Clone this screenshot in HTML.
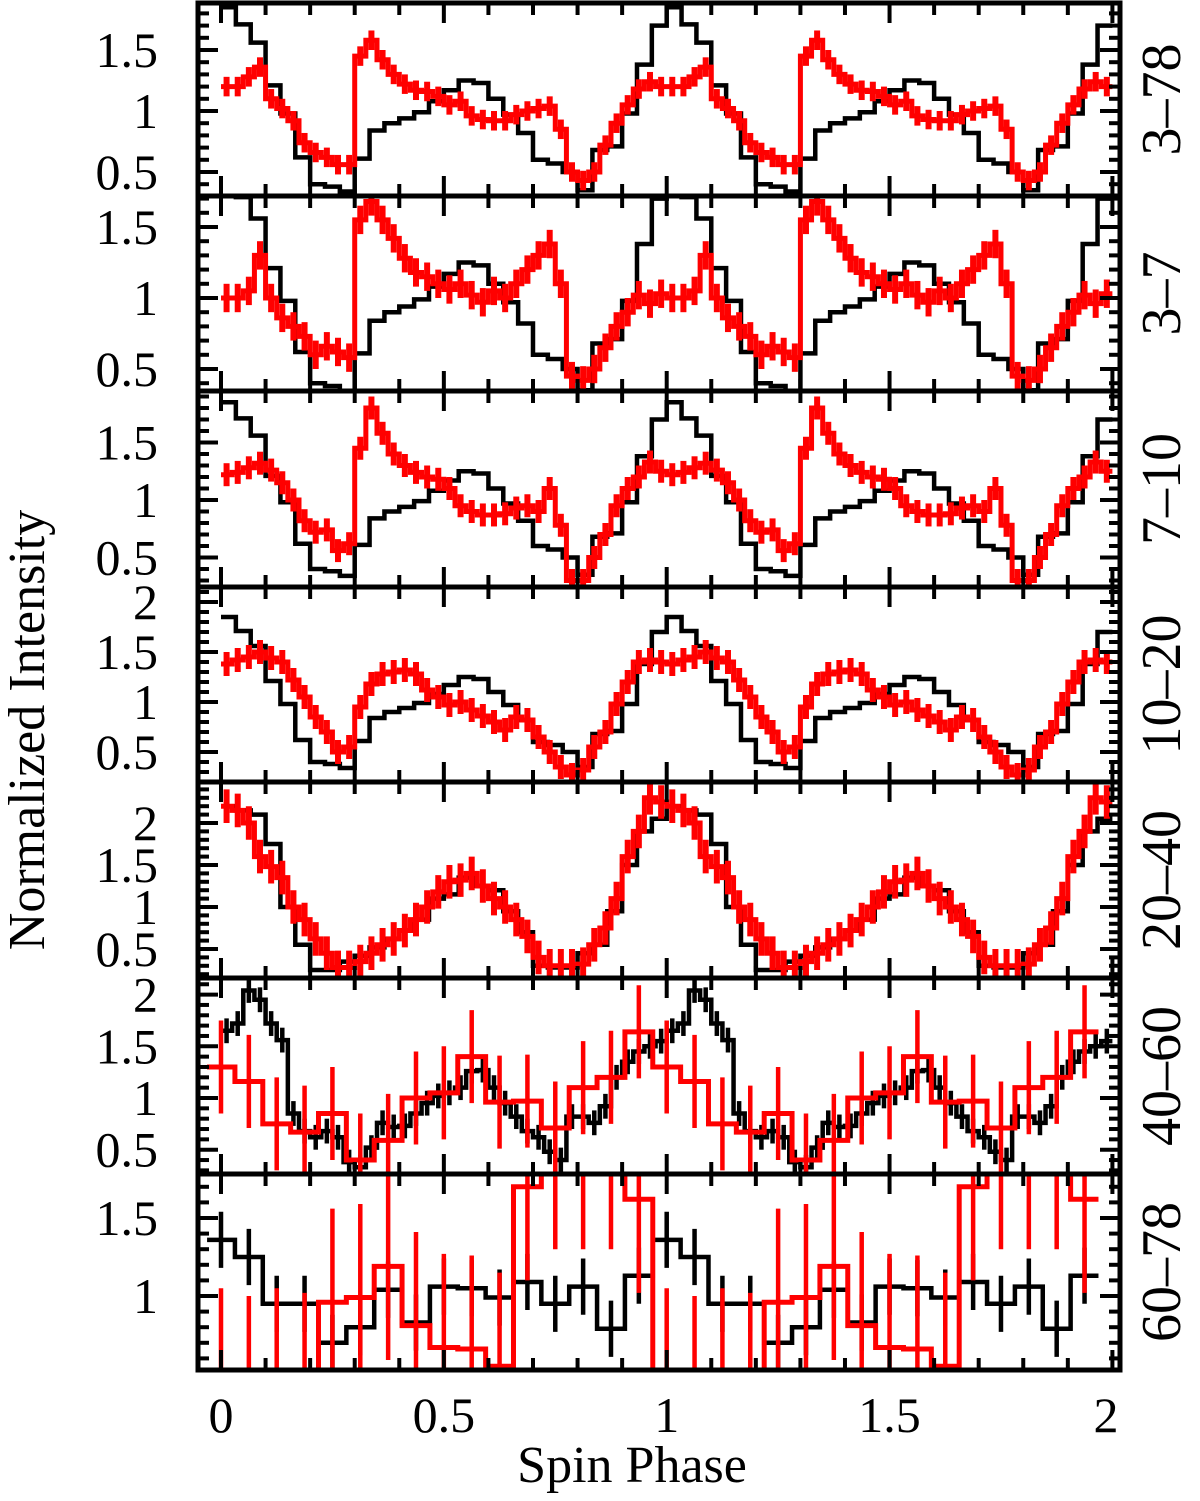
<!DOCTYPE html>
<html><head><meta charset="utf-8"><style>
html,body{margin:0;padding:0;background:#fff}
svg{display:block}
text{font-family:"Liberation Serif",serif;fill:#000}
</style></head><body>
<svg id="chart" width="1200" height="1501" viewBox="0 0 1200 1501" xmlns="http://www.w3.org/2000/svg">
<text x="0" y="0" font-size="52" text-anchor="middle" transform="translate(44,730) rotate(-90)">Normalized Intensity</text>
<text x="632" y="1482" font-size="52" text-anchor="middle">Spin Phase</text>
<g id="plots"></g>
</svg>
<script>
// ---- data ----
const bandLabels = ["3–78","3–7","7–10","10–20","20–40","40–60","60–78"];
const xTickLabels = ["0","0.5","1","1.5","2"];
const xTickValues = [0,0.5,1,1.5,2];
const blackRef = [1.85,1.71,1.56,1.21,0.98,0.62,0.40,0.38,0.34,0.61,0.84,0.90,0.94,0.99,1.08,1.17,1.25,1.23,1.10,0.97,0.82,0.60,0.57,0.50,0.35,0.68,0.71,0.98,1.38,1.70];
const black20 = [2.2,2.15,2.1,1.75,1.0,0.55,0.25,0.25,0.35,0.42,0.52,0.62,0.72,0.85,1.10,1.15,1.35,1.25,1.20,0.95,0.70,0.30,0.28,0.28,0.45,0.55,0.95,1.5,1.9,2.05];
const black40 = [1.65,1.72,2.04,1.95,1.72,1.56,0.85,0.68,0.62,0.68,0.62,0.38,0.33,0.52,0.76,0.72,0.73,0.85,0.95,1.02,1.05,1.10,1.26,1.27,1.10,0.95,0.82,0.68,0.62,0.48,0.40,0.82,0.82,0.76,0.92,1.20,1.35,1.45,1.50,1.55];
const black60 = [1.36,1.25,0.95,0.95,0.70,0.80,1.04,0.83,1.06,1.05,0.99,1.09,0.95,1.06,0.79,1.13];
const red3_78 = [1.20,1.20,1.28,1.36,1.10,1.02,0.92,0.74,0.66,0.62,0.56,0.56,1.45,1.58,1.42,1.30,1.22,1.17,1.16,1.12,1.05,1.08,0.96,0.93,0.92,0.92,0.97,1.00,1.02,1.04,0.85,0.50,0.43,0.50,0.72,0.90,1.05,1.18,1.24,1.20];
const red3_7 = [1.0,1.0,1.05,1.30,1.00,0.86,0.80,0.73,0.60,0.66,0.62,0.58,1.55,1.68,1.55,1.42,1.28,1.18,1.15,1.10,1.06,1.10,1.02,0.97,1.05,1.00,1.10,1.20,1.30,1.38,1.10,0.45,0.42,0.50,0.65,0.80,0.90,1.02,0.96,1.03];
const red7_10 = [1.22,1.24,1.28,1.32,1.26,1.15,1.0,0.82,0.72,0.74,0.56,0.62,1.45,1.80,1.58,1.40,1.30,1.24,1.20,1.18,1.10,0.95,0.90,0.87,0.87,0.88,0.93,0.95,0.90,1.10,0.78,0.30,0.30,0.50,0.70,0.95,1.10,1.20,1.33,1.25];
const red10_20 = [1.38,1.42,1.45,1.50,1.44,1.40,1.22,1.05,0.85,0.70,0.50,0.55,0.95,1.18,1.28,1.30,1.32,1.28,1.12,1.05,0.97,1.00,0.92,0.86,0.80,0.72,0.85,0.82,0.65,0.50,0.35,0.27,0.32,0.55,0.70,0.98,1.20,1.40,1.42,1.40];
const red20_40 = [2.2,2.15,2.0,1.60,1.48,1.35,1.00,0.85,0.62,0.45,0.28,0.28,0.35,0.45,0.55,0.62,0.72,0.85,1.00,1.18,1.30,1.32,1.40,1.25,1.10,1.00,0.85,0.65,0.40,0.30,0.30,0.30,0.32,0.55,0.75,1.10,1.60,1.90,2.30,2.25];
const red40_60 = [1.30,1.16,0.75,0.67,0.85,0.40,0.59,1.0,1.05,1.40,0.96,0.97,0.71,1.10,1.20,1.64];
const red60_78 = [0.45,0.40,0.45,0.42,0.96,0.99,1.19,0.81,0.67,0.66,0.55,1.70,1.90,1.90,1.90,1.62];
const redErr = [0.08,0.1,0.1,0.12,0.2,0.45,0.6];
const blackErr = [0,0,0,0,0,0.12,0.18];

// ---- layout ----
const X = p => 221 + 445.7 * p;
const LEFT = 198, RIGHT = 1120;
const tops = [3,196,391,587,782,978,1174,1370];
const refY = [111,298,500,702,907,1098,1296];
const scale = [122,142,115,100,84,103.4,156];
const yLabelSets = [[0.5,1,1.5],[0.5,1,1.5],[0.5,1,1.5],[0.5,1,1.5,2],[0.5,1,1.5,2],[0.5,1,1.5,2],[1,1.5]];
const blackSeries = [blackRef,blackRef,blackRef,blackRef,black20,black40,black60];
const redSeries = [red3_78,red3_7,red7_10,red10_20,red20_40,red40_60,red60_78];

const NS = "http://www.w3.org/2000/svg";
const root = document.getElementById('plots');
function mk(tag, attrs, parent){ const e=document.createElementNS(NS,tag); for(const k in attrs) e.setAttribute(k,attrs[k]); (parent||root).appendChild(e); return e; }

function stepPath(vals, Y, off){
  const nb = vals.length; let d = "";
  for(let c=0;c<2;c++) for(let k=0;k<nb;k++){
    const x0 = X(c+(k+off)/nb), x1 = X(c+(k+1+off)/nb), y = Y(vals[k]);
    d += (d===""? "M"+x0+","+y : "V"+y) + "H"+x1;
  }
  return d;
}

for(let i=0;i<7;i++){
  const top = tops[i], bot = tops[i+1];
  const Y = v => refY[i] - (v-1)*scale[i];
  const g = mk('g',{});
  
  
  const cp = mk('clipPath',{id:'c'+i}, g);
  mk('rect',{x:LEFT,y:top,width:RIGHT-LEFT,height:bot-top},cp);
  const marks = mk('g',{'clip-path':'url(#c'+i+')'}, g);
  const off = blackSeries[i].length===16 ? -0.5 : 0;
  const bl = mk('path',{d:stepPath(blackSeries[i],Y,off),fill:'none',stroke:'#000','stroke-width':4.5}, marks);
  
  
  if(blackErr[i]>0){
    const nb=blackSeries[i].length;
    for(let c=0;c<2;c++) for(let k=0;k<nb;k++){
      const xc=X(c+(k+0.5+off)/nb), v=blackSeries[i][k];
      const eb = mk('line',{x1:xc,x2:xc,y1:Y(v-blackErr[i]),y2:Y(v+blackErr[i]),stroke:'#000','stroke-width':4.5},marks);
      
      
    }
  }
  const rv = redSeries[i], rnb = rv.length, roff = rnb===16 ? -0.5 : 0;
  const rl = mk('path',{d:stepPath(rv,Y,roff),fill:'none',stroke:'#ff0000','stroke-width':5}, marks);
  
  
  for(let c=0;c<2;c++) for(let k=0;k<rnb;k++){
    const xc=X(c+(k+0.5+roff)/rnb), v=rv[k];
    const eb = mk('line',{x1:xc,x2:xc,y1:Y(v-redErr[i]),y2:Y(v+redErr[i]),stroke:'#ff0000','stroke-width':rnb===16?4.5:6},marks);
    
    
  }
  // x ticks
  for(let t=0;t<=20;t++){
    const p=t/10, x=X(p), L=(t%5===0)?20:12;
    mk('line',{x1:x,x2:x,y1:top,y2:top+L,stroke:'#000','stroke-width':4},g);
    mk('line',{x1:x,x2:x,y1:bot,y2:bot-L,stroke:'#000','stroke-width':4},g);
  }
  // y ticks
  const vmin = 1-(bot-refY[i])/scale[i], vmax = 1+(refY[i]-top)/scale[i];
  for(let t=Math.ceil(vmin*10);t<=Math.floor(vmax*10);t++){
    const y=Y(t/10), L=(t%5===0)?20:11;
    mk('line',{x1:LEFT,x2:LEFT+L,y1:y,y2:y,stroke:'#000','stroke-width':4},g);
    mk('line',{x1:RIGHT,x2:RIGHT-L,y1:y,y2:y,stroke:'#000','stroke-width':4},g);
  }
  for(const v of yLabelSets[i]){
    const tl = mk('text',{x:158,y:Y(v)+17,'font-size':50,'text-anchor':'end'},g);
    tl.textContent = String(v);
    
    
  }
  const bt = mk('text',{x:0,y:0,'font-size':56,'text-anchor':'middle',transform:'translate(1180,'+((top+bot)/2)+') rotate(-90)'},g);
  bt.textContent = bandLabels[i];
  
  
  const fr = mk('rect',{x:LEFT,y:top,width:RIGHT-LEFT,height:bot-top,fill:'none',stroke:'#000','stroke-width':5},g);
  
  
}
for(let j=0;j<xTickValues.length;j++){
  const t = mk('text',{x:Math.min(X(xTickValues[j]),1106),y:1432,'font-size':50,'text-anchor':'middle'});
  t.textContent = xTickLabels[j];
  
  
}
</script>
</body></html>
